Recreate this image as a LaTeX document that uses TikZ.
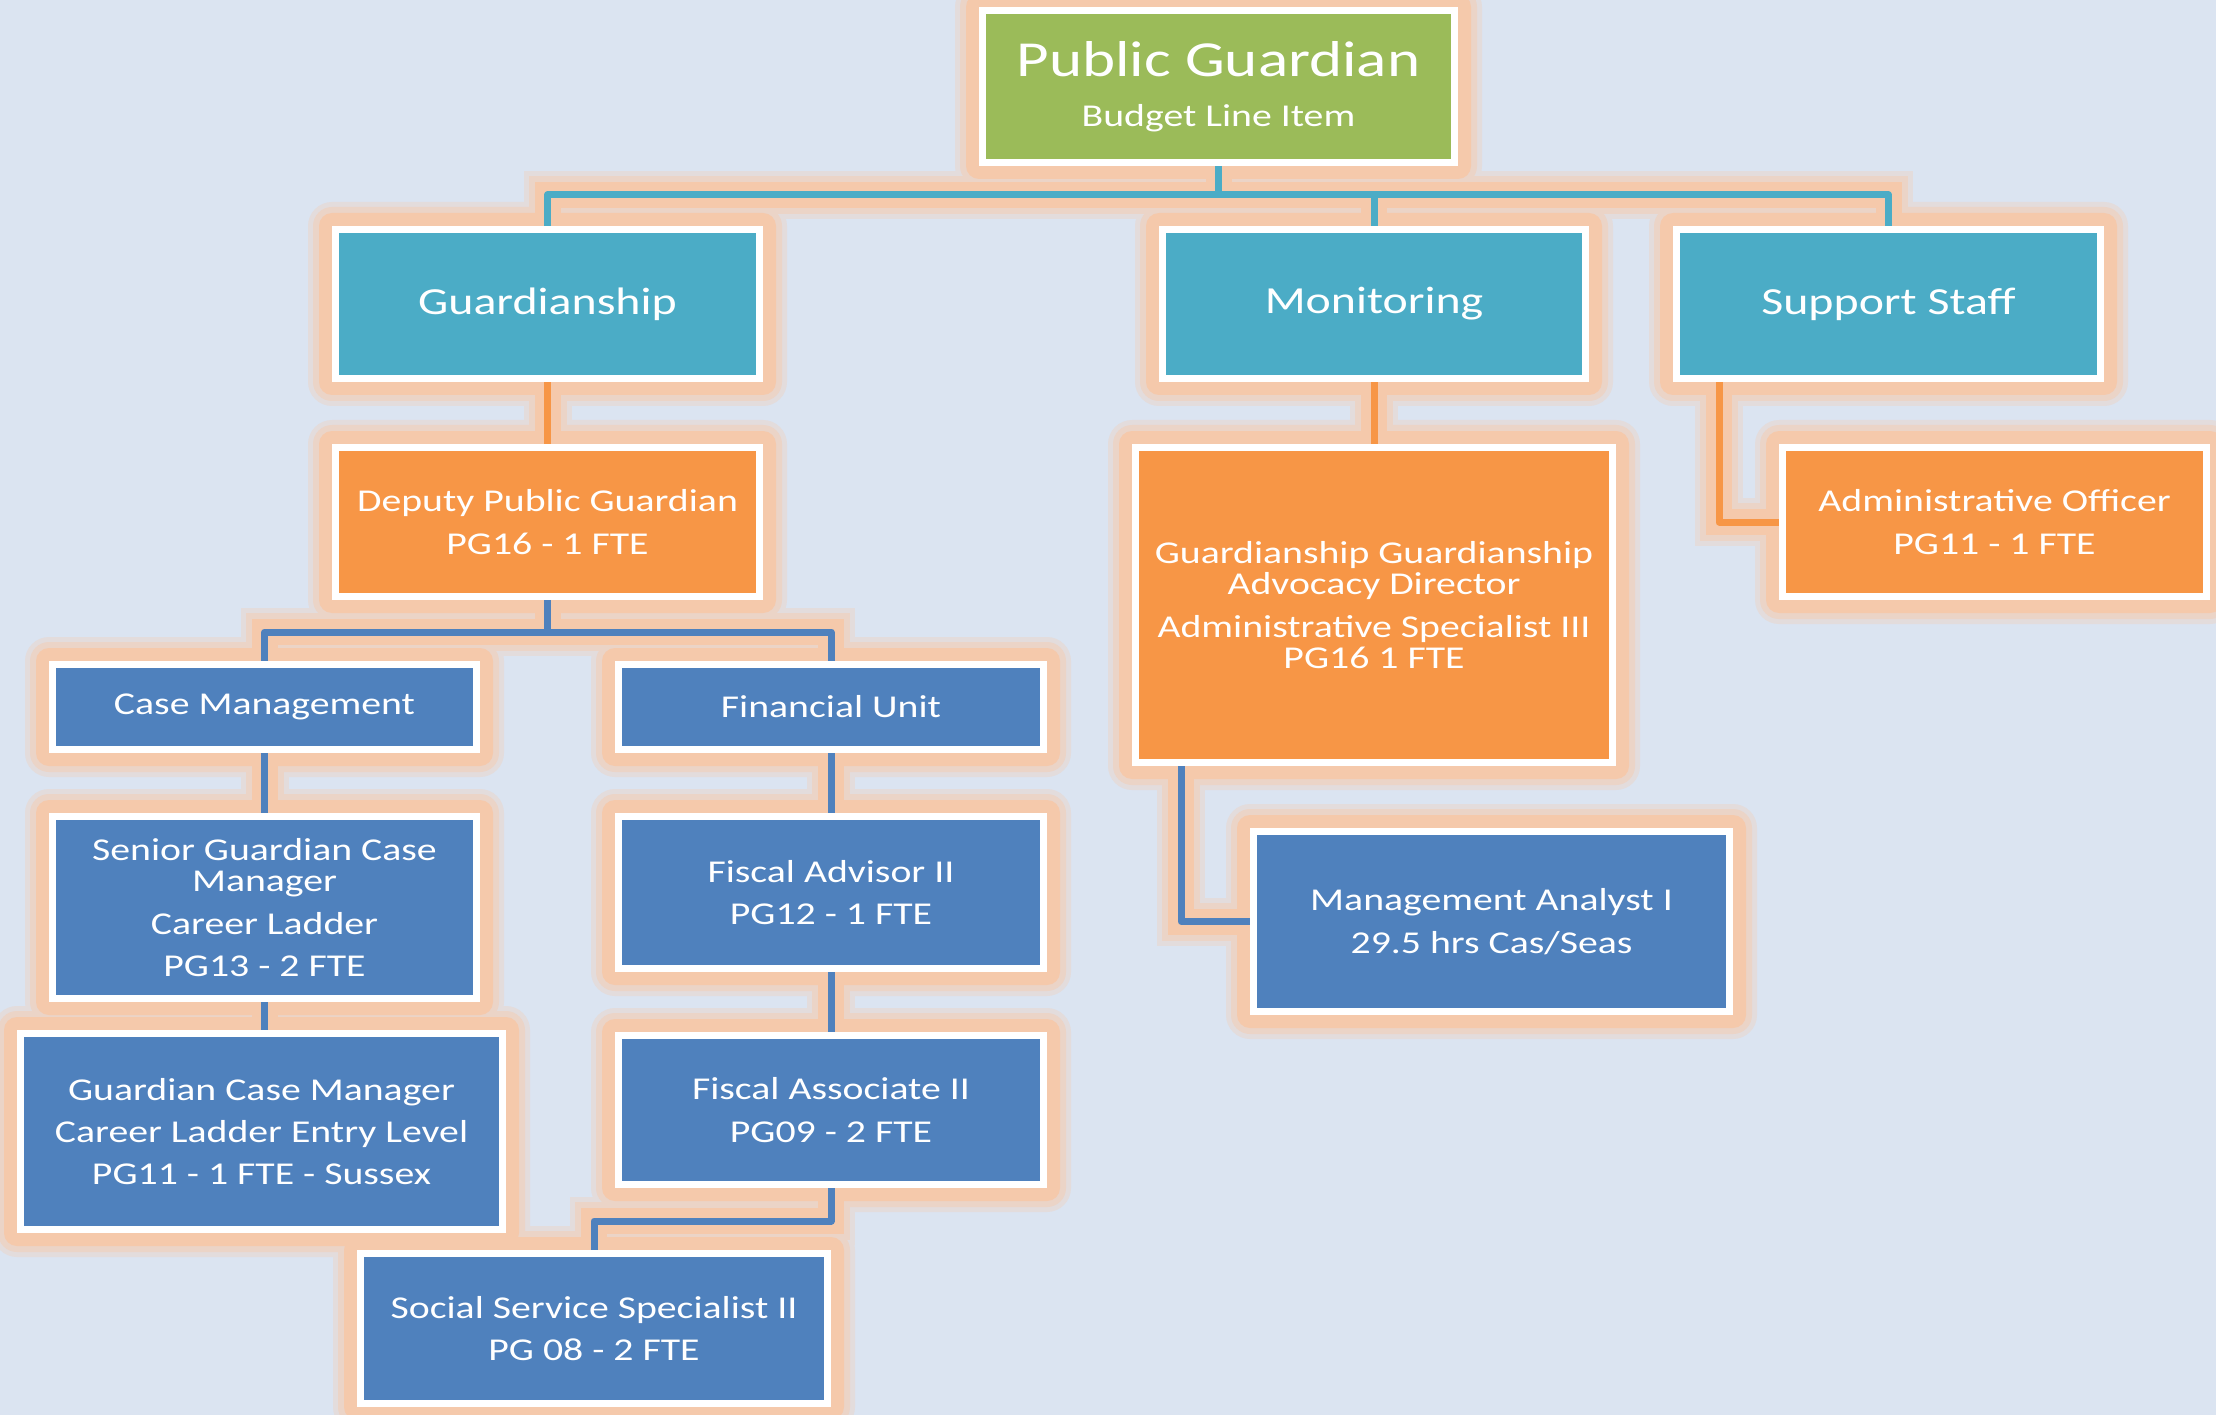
\documentclass[tikz,border=0pt]{standalone}
\usepackage{fontspec}
\setmainfont{Carlito}[FakeStretch=1.25]
\usepackage{xcolor}
\definecolor{PGGreen}{HTML}{9BBB59}
\definecolor{PGTeal}{HTML}{4BACC6}
\definecolor{PGOrange}{HTML}{F79646}
\definecolor{PGBlue}{HTML}{4F81BD}
\definecolor{PGPeach}{HTML}{F5C9AB}
\definecolor{PGBack}{HTML}{DBE4F1}
\newdimen\px
\px=0.02cm
\newcommand\bodyfont{\fontsize{18.1}{17.8}\selectfont}
\newcommand\headfont{\fontsize{21.8}{24}\selectfont}
\newcommand\titlefont{\fontsize{28.7}{30}\selectfont}
\pgfdeclarelayer{back}
\pgfdeclarelayer{glow}
\pgfdeclarelayer{links}
\pgfsetlayers{back,glow,links,main}
\tikzset{
	unit/.style = {
		shape      = rectangle,
		fill       = #1,
		draw       = white,
		line width = 7\px,
		text       = white,
		align      = center,
		inner sep  = 0pt,
		font       = \bodyfont,
	},
	head/.style = {
		unit = PGTeal,
		font = \headfont,
	},
	sized/.style 2 args = {
		minimum width  = {(#1-7)*\px},
		minimum height = {(#2-7)*\px},
	},
	link/.style = {
		draw       = #1,
		line width = 7\px,
		line join  = round,
	},
}
% all connectors, drawn once as glow and once as line
\newcommand\pglinks{
	\draw[link=PGTeal]   (pg) -- (pg.south |- bus);
	\draw[link=PGTeal]   (guard.north) |- (bus) -| (supp.north);
	\draw[link=PGTeal]   (monit) -- (monit.north |- bus);
	\draw[link=PGOrange] (guard) -- (deputy);
	\draw[link=PGOrange] (monit) -- (director);
	\draw[link=PGOrange] ([xshift=-169.5\px]supp.south) |- (admin);
	\draw[link=PGBlue]   ([xshift=-193\px]director.south) |- (mana);
	\draw[link=PGBlue]   (deputy) -- (deputy.south |- dbus);
	\draw[link=PGBlue]   (casemgmt.north) |- (dbus) -| (finunit.north);
	\draw[link=PGBlue]   (casemgmt) -- (senior);
	\draw[link=PGBlue]   (senior) -- (senior.south |- gcm.north);
	\draw[link=PGBlue]   (finunit) -- (fadv);
	\draw[link=PGBlue]   (fadv) -- (fassoc);
	\draw[link=PGBlue]   (fassoc) |- (sbus) -- (sss);
}
\begin{document}
\begin{tikzpicture}[x=0.02cm, y=-0.02cm]
	\begin{pgfonlayer}{back}
		\fill[PGBack] (0,0) rectangle (2216,1415);
	\end{pgfonlayer}
	\useasboundingbox (0,0) rectangle (2216,1415);

	\coordinate (bus)  at (1218.5, 195);
	\coordinate (dbus) at ( 547.5, 632);
	\coordinate (sbus) at ( 594  ,1221);

	% top
	\node (pg) at (1218.5, 86.5) [unit=PGGreen, sized={479}{159}]
		{{\titlefont Public Guardian}\\[19\px]Budget Line Item};

	% divisions
	\node (guard) at ( 547.5, 304) [head, sized={431}{156}] {Guardianship};
	\node (monit) at (1374  , 304) [head, sized={430}{156}] {Monitoring};
	\node (supp)  at (1888.5, 304) [head, sized={431}{156}] {Support Staff};

	% heads
	\node (deputy)   at ( 547.5, 522) [unit=PGOrange, sized={431}{156}]
		{Deputy Public Guardian\\[11\px]PG16 - 1 FTE};
	\node (director) at (1374  , 605) [unit=PGOrange, sized={484}{322}]
		{Guardianship Guardianship\\Advocacy Director\\[11\px]Administrative Specialist III\\PG16 1 FTE};
	\node (admin)    at (1994.5, 522) [unit=PGOrange, sized={431}{156}]
		{Administrative Officer\\[11\px]PG11 - 1 FTE};

	% staff
	\node (casemgmt) at ( 264.5, 707)    [unit=PGBlue, sized={431}{92}]  {Case Management};
	\node (finunit)  at ( 831  , 707)    [unit=PGBlue, sized={432}{92}]  {Financial Unit};
	\node (senior)   at ( 264.5, 907.5)  [unit=PGBlue, sized={431}{189}]
		{Senior Guardian Case\\Manager\\[11\px]Career Ladder\\[11\px]PG13 - 2 FTE};
	\node (fadv)     at ( 831  , 892.5)  [unit=PGBlue, sized={432}{159}]
		{Fiscal Advisor II\\[11\px]PG12 - 1 FTE};
	\node (gcm)      at ( 261.5, 1131.5) [unit=PGBlue, sized={489}{203}]
		{Guardian Case Manager\\[11\px]Career Ladder Entry Level\\[11\px]PG11 - 1 FTE - Sussex};
	\node (fassoc)   at ( 831  , 1110)   [unit=PGBlue, sized={432}{156}]
		{Fiscal Associate II\\[11\px]PG09 - 2 FTE};
	\node (mana)     at (1491.5, 921.5)  [unit=PGBlue, sized={483}{187}]
		{Management Analyst I\\[11\px]29.5 hrs Cas/Seas};
	\node (sss)      at ( 594  , 1328.5) [unit=PGBlue, sized={474}{157}]
		{Social Service Specialist II\\[11\px]PG 08 - 2 FTE};

	\begin{pgfonlayer}{links}
		\pglinks
	\end{pgfonlayer}

	% soft orange glow behind boxes and lines
	\begin{pgfonlayer}{glow}
		\foreach \g/\c in {24/30, 19/60, 13/100} {
			\foreach \n in {pg,guard,monit,supp,deputy,director,admin,casemgmt,finunit,senior,fadv,gcm,fassoc,mana,sss}
				\fill[PGPeach!\c!PGBack, rounded corners=\g\px]
					([xshift=-\g\px, yshift=-\g\px]\n.south west) rectangle ([xshift=\g\px, yshift=\g\px]\n.north east);
			\begin{scope}[link/.style = {draw = PGPeach!\c!PGBack, line width = 2*\g\px}]
				\pglinks
			\end{scope}
		}
	\end{pgfonlayer}
\end{tikzpicture}
\end{document}
